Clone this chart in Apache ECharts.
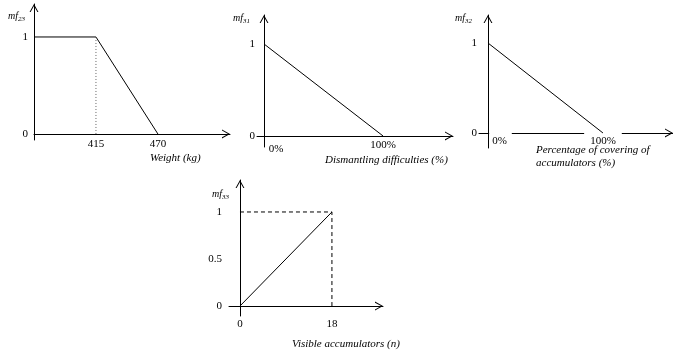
<!DOCTYPE html>
<html>
<head>
<meta charset="utf-8">
<script src="https://cdn.jsdelivr.net/npm/echarts@6/dist/echarts.min.js"></script>
<style>
  html, body { margin: 0; padding: 0; background: #fff; }
  #chart { width: 673px; height: 356px; }
</style>
</head>
<body>
<div id="chart"></div>
<script>
// membership functions
var weightX = [360, 415, 470];
var weightMf = [1, 1, 0];
var weightGuideX = [415, 415];
var weightGuideMf = [1, 0];

var dismantleX = [0, 100];
var dismantleMf = [1, 0];

var coverX = [0, 100];
var coverMf = [1, 0];

var visibleX = [0, 18];
var visibleMf = [0, 1];
var visibleGuideX = [0, 18, 18];
var visibleGuideMf = [1, 1, 0];

// tick labels
var weightTicks = [415, 470];
var pctTicks = [0, 100];
var visibleTicks = [0, 18];
var mfTicks = [0, 1];
var mfTicksHalf = [0, 0.5, 1];

function zip(xs, ys) {
  var out = [];
  for (var i = 0; i < xs.length; i++) out.push([xs[i], ys[i]]);
  return out;
}

var serif = 'Liberation Serif';
var chevron = 'path://M0,9 L5,0 L10,9 L8.8,9 L5,2.2 L1.2,9 Z';

function axisLine() {
  return {
    onZero: true,
    symbol: ['none', chevron],
    symbolSize: [9, 8],
    symbolOffset: [0, -4],
    lineStyle: { color: '#000', width: 1 }
  };
}

// labels are laid out from the grid edge, not from the zero line
function xAx(idx, min, max, ticks, margin, fmt, extra) {
  var lab = {
    customValues: ticks,
    margin: margin,
    color: '#000',
    fontFamily: serif,
    fontSize: 11
  };
  if (fmt) lab.formatter = fmt;
  if (extra) for (var k in extra) lab[k] = extra[k];
  return {
    type: 'value', gridIndex: idx, min: min, max: max,
    axisLine: axisLine(),
    axisTick: { show: false },
    splitLine: { show: false },
    axisLabel: lab
  };
}

function yAx(idx, min, max, ticks, margin) {
  return {
    type: 'value', gridIndex: idx, min: min, max: max,
    axisLine: axisLine(),
    axisTick: { show: false },
    splitLine: { show: false },
    axisLabel: {
      customValues: ticks,
      margin: margin,
      color: '#000',
      fontFamily: serif,
      fontSize: 11
    }
  };
}

function mfLine(idx, data, style) {
  return {
    type: 'line', xAxisIndex: idx, yAxisIndex: idx,
    data: data, symbol: 'none', silent: true, z: 10,
    lineStyle: style || { color: '#000', width: 1 }
  };
}

var subRich = {
  m: { fontFamily: serif, fontStyle: 'italic', fontSize: 10, color: '#000', lineHeight: 14 },
  s: { fontFamily: serif, fontStyle: 'italic', fontSize: 7, color: '#000', lineHeight: 8, verticalAlign: 'bottom' }
};
function label(text, left, top, rich) {
  return {
    text: text, left: left, top: top, padding: 0,
    textStyle: {
      fontFamily: serif, fontStyle: 'italic', fontWeight: 'normal',
      fontSize: 11, color: '#000', lineHeight: 13, rich: rich
    }
  };
}

var pctFmt = function (v) { return v === 0 ? '{z|0%}' : v + '%'; };
// third panel: labels sit on the axis line with a white box behind them
var pctBoxFmt = function (v) { return v === 0 ? '{gap|}{z|0%}' : '{w|' + v + '%}'; };

var option = {
  animation: false,
  backgroundColor: '#fff',
  title: [
    label('{m|mf}{s|23}', 8, 9, subRich),
    label('{m|mf}{s|31}', 233, 11, subRich),
    label('{m|mf}{s|32}', 455, 11, subRich),
    label('{m|mf}{s|33}', 212, 187, subRich),
    label('Weight (kg)', 150, 152),
    label('Dismantling difficulties (%)', 325, 154),
    label('Percentage of covering of\naccumulators (%)', 536, 144),
    label('Visible accumulators (n)', 292, 338)
  ],
  grid: [
    { left: 34, top: 4, width: 196, height: 136 },
    { left: 257, top: 15, width: 196, height: 132 },
    { left: 479, top: 15, width: 194, height: 133 },
    { left: 229, top: 180, width: 154, height: 136 }
  ],
  xAxis: [
    xAx(0, 360, 534, weightTicks, -1),
    xAx(1, -5.9, 158.8, pctTicks, -7, pctFmt, {
      rich: { z: { padding: [4, 0, 0, 24], fontFamily: serif, fontSize: 11, color: '#000' } }
    }),
    xAx(2, -7.8, 160.9, pctTicks, -16, pctBoxFmt, {
      rich: {
        gap: { width: 25 },
        z: { padding: [4, 5, 1, 3], backgroundColor: '#fff', fontFamily: serif, fontSize: 11, color: '#000' },
        w: { padding: [4, 6, 1, 6], backgroundColor: '#fff', fontFamily: serif, fontSize: 11, color: '#000' }
      }
    }),
    xAx(3, -2.15, 28, visibleTicks, 3)
  ],
  yAxis: [
    yAx(0, -0.062, 1.34, mfTicks, 6),
    yAx(1, -0.12, 1.315, mfTicks, 2),
    yAx(2, -0.167, 1.311, mfTicks, 2),
    yAx(3, -0.106, 1.34, mfTicksHalf, 7)
  ],
  series: [
    mfLine(0, zip(weightX, weightMf)),
    mfLine(0, zip(weightGuideX, weightGuideMf), { color: '#666', width: 1, type: [1, 2] }),
    mfLine(1, zip(dismantleX, dismantleMf)),
    mfLine(2, zip(coverX, coverMf)),
    mfLine(3, zip(visibleX, visibleMf)),
    mfLine(3, zip(visibleGuideX, visibleGuideMf), { color: '#000', width: 1, type: [4, 3] })
  ]
};

var chart = echarts.init(document.getElementById('chart'));
chart.setOption(option);
</script>
</body>
</html>
